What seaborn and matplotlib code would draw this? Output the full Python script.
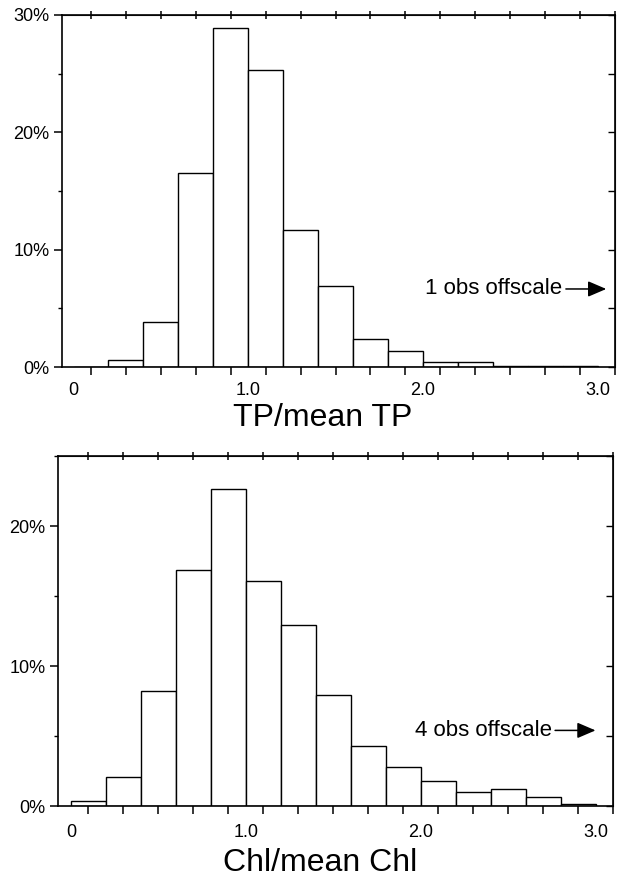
import matplotlib
matplotlib.use('Agg')
import matplotlib.pyplot as plt
import matplotlib.ticker as mticker
import seaborn as sns

# histogram bins are 0.2 wide from 0 to 3.0; values are % of observations
bin_mid = [0.1, 0.3, 0.5, 0.7, 0.9, 1.1, 1.3, 1.5, 1.7, 1.9, 2.1, 2.3, 2.5, 2.7, 2.9]
tp_pct = [0.0, 0.57, 3.8, 16.55, 28.9, 25.3, 11.7, 6.9, 2.4, 1.4, 0.4, 0.4, 0.1, 0.05, 0.1]
chl_pct = [0.36, 2.08, 8.2, 16.87, 22.67, 16.08, 12.93, 7.9, 4.3, 2.8, 1.8, 1.0, 1.25, 0.65, 0.15]

x_label_pos = [0, 1, 2, 3]
x_labels = ['0', '1.0', '2.0', '3.0']
minor_x = bin_mid + [3.1]

tp_yticks = [0, 10, 20, 30]
chl_yticks = [0, 10, 20]

sns.set_style('ticks')
plt.rcParams['font.family'] = ['Liberation Sans', 'DejaVu Sans']
for key in ['text.color', 'axes.labelcolor', 'xtick.color', 'ytick.color']:
	plt.rcParams[key] = 'black'


def draw_panel(fig, rect, pct, xlabel, ymax, yticks, note, note_y, tip_x, text_x, xlim, tpad, label_y):
	ax = fig.add_axes(rect)
	sns.histplot(x=bin_mid, weights=pct, binwidth=0.2, binrange=(0, 3.0),
		color='white', edgecolor='black', linewidth=1.0, alpha=1, ax=ax)
	ax.set_xlim(*xlim)
	ax.set_ylim(0, ymax)
	ax.set_ylabel('')
	for s in ax.spines.values():
		s.set_linewidth(1.2)
		s.set_color('black')

	ax.xaxis.set_major_locator(mticker.FixedLocator(x_label_pos))
	ax.set_xticklabels(x_labels)
	ax.xaxis.set_minor_locator(mticker.FixedLocator(minor_x))
	ax.tick_params(axis='x', which='major', length=0, pad=tpad, labelsize=13)
	ax.tick_params(axis='x', which='minor', length=6, width=1.1, direction='out')

	ax.yaxis.set_major_locator(mticker.FixedLocator(yticks))
	ax.set_yticklabels(['%d%%' % v for v in yticks])
	ax.yaxis.set_minor_locator(mticker.MultipleLocator(5))
	ax.tick_params(axis='y', which='major', length=6, width=1.1, pad=3, labelsize=13)
	ax.tick_params(axis='y', which='minor', length=3, width=1.0)

	ax.set_xlabel(xlabel, fontsize=23)
	ax.xaxis.set_label_coords(0.472, label_y)

	# ticks along the top and right frame
	top = ax.secondary_xaxis('top')
	top.xaxis.set_major_locator(mticker.FixedLocator(minor_x))
	top.tick_params(direction='inout', length=6, width=1.1, labeltop=False)
	right = ax.secondary_yaxis('right')
	right.yaxis.set_major_locator(mticker.MultipleLocator(5))
	right.tick_params(direction='in', length=5, width=1.0, labelright=False)

	ax.annotate(note, xy=(tip_x, note_y), xytext=(text_x, note_y),
		ha='right', va='center', fontsize=16,
		arrowprops=dict(arrowstyle='-|>,head_length=0.7,head_width=0.3',
			color='black', lw=1.1, shrinkA=0, shrinkB=0))
	return ax


fig = plt.figure(figsize=(6.25, 8.8), dpi=100)
draw_panel(fig, [62/625, 1 - 367/880, 553/625, 352/880], tp_pct, 'TP/mean TP', 30,
	tp_yticks, '1 obs offscale', 6.65, 3.05, 2.80, (-0.066, 3.1), 11, -0.102)
draw_panel(fig, [58/625, 1 - 806/880, 555/625, 350/880], chl_pct, 'Chl/mean Chl', 25,
	chl_yticks, '4 obs offscale', 5.4, 3.0, 2.75, (-0.074, 3.1), 13, -0.12)

plt.savefig('out.png', dpi=100)
plt.close()
